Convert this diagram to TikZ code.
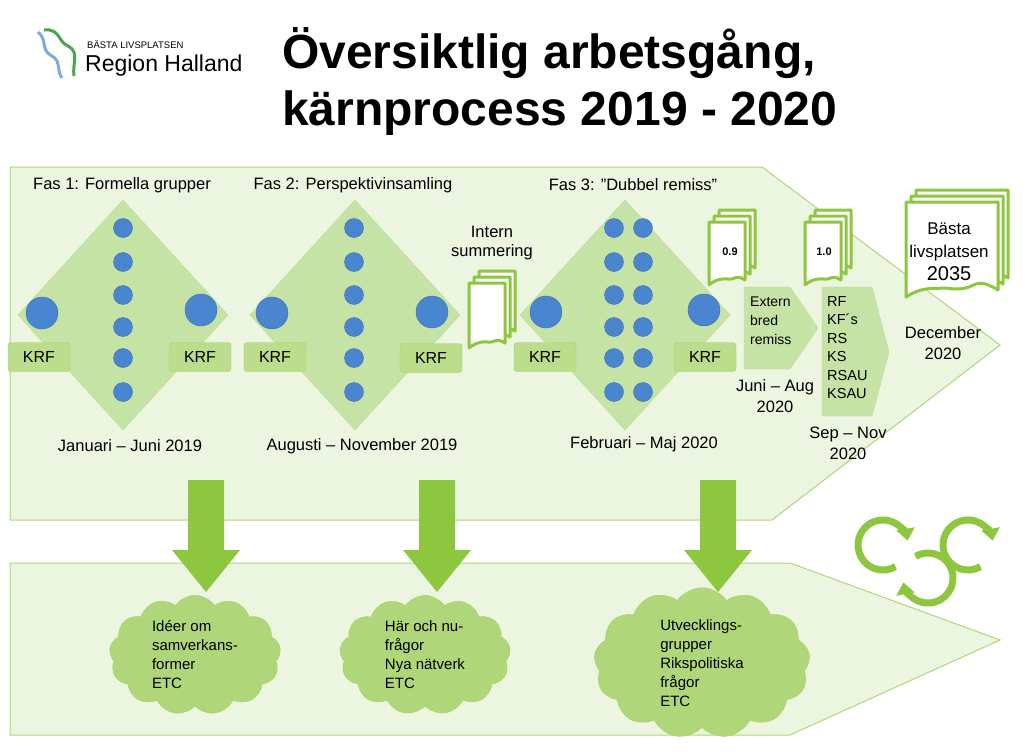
\documentclass[tikz,border=0pt]{standalone}
\usepackage{fontspec}
\setmainfont{Liberation Sans}
\usetikzlibrary{positioning,shapes.symbols,arrows.meta}
\definecolor{lgreen}{HTML}{EBF5E0}
\definecolor{mgreen}{HTML}{C6E3A6}
\definecolor{dgreen}{HTML}{8DC63F}
\definecolor{bdot}{HTML}{4A86D0}
\definecolor{bdotb}{HTML}{3C6FB0}
\tikzset{
  chevron/.style={fill=lgreen, draw=dgreen!70, line width=1pt},
  diam/.style={fill=mgreen, draw=mgreen!80!dgreen},
  dot/.style={circle, fill=bdot, draw=bdotb, minimum size=19pt, inner sep=0pt},
  bigdot/.style={circle, fill=bdot, draw=bdotb, minimum size=32pt, inner sep=0pt},
  krf/.style={rounded corners=3pt, fill=dgreen!60, draw=dgreen!80, minimum width=62pt, minimum height=29pt, font=\fontsize{16}{18}\selectfont},
  lbl/.style={font=\fontsize{16.5}{19}\selectfont, align=center},
  cloudtxt/.style={cloud, cloud puffs=13, cloud puff arc=110, aspect=1.6, fill=dgreen!70, draw=dgreen!80, inner sep=2pt, align=left, font=\fontsize{15}{19}\selectfont},
  downarrow/.style={fill=dgreen, draw=none},
  page/.style={fill=white, draw=dgreen, line width=3pt, line join=round}
}
% one page with a wavy bottom
\newcommand{\docpage}[4]{%
  \draw[page] (#1,#2) -- ++(#3,0) -- ++(0,#4)
    .. controls +(-0.3*#3,-0.18*#3) and +(0.35*#3,0.05*#3) .. ++(-0.55*#3,-0.02*#4)
    .. controls +(-0.2*#3,0) and +(0.15*#3,-0.1*#3) .. ++(-0.45*#3,0.1*#4) -- cycle;}
\newcommand{\docstack}[4]{%
  \docpage{#1+10}{#2-12}{#3}{#4}
  \docpage{#1+5}{#2-6}{#3}{#4}
  \docpage{#1}{#2}{#3}{#4}}
\begin{document}
\begin{tikzpicture}[x=1pt,y=-1pt]
  \useasboundingbox (0,0) rectangle (1023,752);

  % logo
  \draw[color=bdot!70, line width=3pt] (38,32) .. controls (48,40) and (40,50) .. (52,56) .. controls (62,62) and (56,70) .. (62,78);
  \draw[color=green!50!black!70, line width=3pt] (44,30) .. controls (60,28) and (58,42) .. (68,46) .. controls (80,52) and (72,64) .. (74,76);
  \node[anchor=south west, font=\fontsize{9.5}{10}\selectfont, inner sep=0pt] (logotop) at (87,49) {BÄSTA LIVSPLATSEN};
  \node[anchor=north west, font=\fontsize{23}{24}\selectfont, inner sep=0pt] (logo) at (85,55) {Region Halland};

  % title
  \node[anchor=north west, font=\bfseries\fontsize{48}{57}\selectfont, align=left, inner sep=0pt] (title) at (282,27)
    {Översiktlig arbetsgång,\\kärnprocess 2019 - 2020};

  % chevrons
  \draw[chevron] (10,167) -- (762,167) -- (1000,345) -- (772,520) -- (10,520) -- cycle;
  \draw[chevron] (10,563) -- (790,563) -- (1000,640) -- (790,735) -- (10,735) -- cycle;

  % phases
  \foreach \cx/\cy in {123/315, 355/315, 625/315}
    \draw[diam] (\cx-105,\cy) -- (\cx,\cy-115) -- (\cx+105,\cy) -- (\cx,\cy+115) -- cycle;
  \foreach \y in {228,262,295,327,358,392} {
    \node[dot] at (123,\y) {};
    \node[dot] at (354,\y) {};
    \node[dot] at (614,\y) {};
    \node[dot] at (643,\y) {};
  }
  \node[bigdot] (b1) at (42,313) {};
  \node[bigdot] (b2) at (201,310) {};
  \node[bigdot] (b3) at (272,313) {};
  \node[bigdot] (b4) at (432,312) {};
  \node[bigdot] (b5) at (546,312) {};
  \node[bigdot] (b6) at (704,310) {};
  \node[krf] (k1) at (39,357) {KRF};
  \node[krf] (k2) at (200,357) {KRF};
  \node[krf] (k3) at (275,357) {KRF};
  \node[krf] (k4) at (431,358) {KRF};
  \node[krf] (k5) at (545,357) {KRF};
  \node[krf] (k6) at (705,357) {KRF};

  \node[lbl] (f1) at (122,185) {Fas 1: Formella grupper};
  \node[lbl] (f2) at (353,185) {Fas 2: Perspektivinsamling};
  \node[lbl] (f3) at (633,185) {Fas 3: ”Dubbel remiss”};
  \node[lbl] (d1) at (130,446) {Januari – Juni 2019};
  \node[lbl] (d2) at (362,446) {Augusti – November 2019};
  \node[lbl] (d3) at (644,444) {Februari – Maj 2020};

  % documents
  \node[lbl] (intern) at (492,243) {Intern\\summering};
  \docstack{469}{283}{36}{60}
  \docstack{709}{222}{36}{58}
  \node[font=\bfseries\fontsize{11}{12}\selectfont] (v09) at (730,252) {0.9};
  \docstack{805}{222}{36}{58}
  \node[font=\bfseries\fontsize{11}{12}\selectfont] (v10) at (824,252) {1.0};
  \docstack{906}{202}{92}{88}
  \node[lbl, font=\fontsize{17}{23}\selectfont] (plan) at (949,252) {Bästa\\livsplatsen\\{\fontsize{20}{23}\selectfont 2035}};

  \draw[fill=mgreen, draw=mgreen!80!dgreen] (744,287) -- (790,287) -- (818,328) -- (790,369) -- (744,369) -- cycle;
  \node[anchor=north west, align=left, font=\fontsize{14}{19}\selectfont, inner sep=0pt] (ext) at (750,297) {Extern\\bred\\remiss};
  \draw[fill=mgreen, draw=mgreen!80!dgreen] (822,287) -- (872,287) -- (889,352) -- (872,416) -- (822,416) -- cycle;
  \node[anchor=north west, align=left, font=\fontsize{14.5}{18.5}\selectfont, inner sep=0pt] (org) at (827,296) {RF\\KF´s\\RS\\KS\\RSAU\\KSAU};
  \node[lbl, font=\fontsize{16.5}{21}\selectfont] (jd) at (775,396) {Juni – Aug\\2020};
  \node[lbl, font=\fontsize{16.5}{21}\selectfont] (sn) at (848,443) {Sep – Nov\\2020};
  \node[lbl, font=\fontsize{16.5}{21}\selectfont] (dec) at (943,343) {December\\2020};

  % down arrows
  \foreach \ax in {206,437,718}
    \fill[downarrow] (\ax-18,480) -- (\ax+18,480) -- (\ax+18,550) -- (\ax+34,550) -- (\ax,592) -- (\ax-34,550) -- (\ax-18,550) -- cycle;

  % clouds
  \node[cloudtxt, minimum width=160pt, minimum height=110pt] (c1) at (195,655) {Idéer om\\samverkans-\\former\\ETC};
  \node[cloudtxt, minimum width=160pt, minimum height=110pt] (c2) at (425,655) {Här och nu-\\frågor\\Nya nätverk\\ETC};
  \node[cloudtxt, minimum width=160pt, minimum height=115pt] (c3) at (702,663) {Utvecklings-\\grupper\\Rikspolitiska\\frågor\\ETC};

  % cycle arrows
  \foreach \rx/\ry/\st in {883/545/60, 928/578/-120, 968/545/60}
    \draw[dgreen, line width=7pt, -{Triangle[length=12pt,width=18pt]}] (\rx,\ry) ++(\st:25) arc[start angle=\st, end angle=\st+290, radius=25];
\end{tikzpicture}
\end{document}
